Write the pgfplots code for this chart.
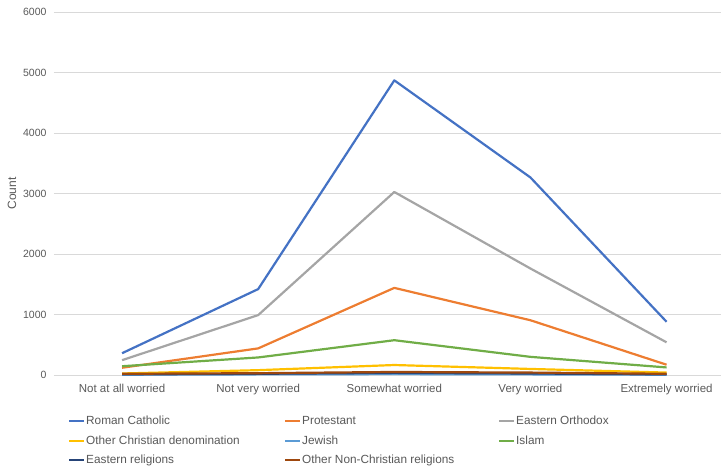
\documentclass[border=0pt]{standalone}
\usepackage{fontspec}
\setmainfont{Liberation Sans}
\usepackage{pgfplots}
\pgfplotsset{compat=1.18}
\definecolor{cRC}{HTML}{4472C4}
\definecolor{cPR}{HTML}{ED7D31}
\definecolor{cEO}{HTML}{A5A5A5}
\definecolor{cOC}{HTML}{FFC000}
\definecolor{cJW}{HTML}{5B9BD5}
\definecolor{cIS}{HTML}{70AD47}
\definecolor{cER}{HTML}{264478}
\definecolor{cON}{HTML}{9E480E}
\definecolor{txt}{HTML}{595959}
\definecolor{grd}{HTML}{D9D9D9}
\begin{document}
\begin{tikzpicture}
\begin{axis}[
  scale only axis,
  width=667pt, height=363pt,
  xmin=-0.5, xmax=4.40,
  ymin=0, ymax=6000,
  xtick={0,1,2,3,4},
  xticklabels={Not at all worried,Not very worried,Somewhat worried,Very worried,Extremely worried},
  ytick={0,1000,2000,3000,4000,5000,6000},
  ymajorgrids, grid style={grd, line width=0.8pt},
  axis line style={draw=none},
  major tick length=0pt,
  scaled y ticks=false,
  /pgf/number format/assume math mode=true,
  /pgf/number format/1000 sep={},
  x tick label style={font=\fontsize{11.5}{13}\selectfont, text=txt, yshift=-6pt},
  y tick label style={font=\fontsize{10.5}{12}\selectfont, text=txt, xshift=-4pt},
  ylabel={Count},
  ylabel style={font=\fontsize{12}{14}\selectfont, text=txt},
  legend columns=3,
  legend cell align=left,
  legend style={at={(0,0)}, anchor=north west, xshift=14pt, yshift=-41pt,
    draw=none, font=\fontsize{11.8}{14}\selectfont, text=txt,
    row sep=9.5pt, column sep=0pt, inner sep=0pt,
    nodes={inner xsep=1pt, inner ysep=0pt}},
  legend image code/.code={\draw[#1, line width=2pt] (0pt,0pt) -- (15pt,0pt);},
  every axis plot/.append style={line width=2.2pt, line join=round, mark=none},
]
\addplot[cRC] coordinates {(0,360) (1,1420) (2,4870) (3,3265) (4,880)};
\addlegendentry{\makebox[197pt][l]{Roman Catholic}}
\addplot[cPR] coordinates {(0,120) (1,440) (2,1440) (3,905) (4,170)};
\addlegendentry{\makebox[195pt][l]{Protestant}}
\addplot[cEO] coordinates {(0,245) (1,990) (2,3025) (3,1760) (4,540)};
\addlegendentry{Eastern Orthodox}
\addplot[cOC] coordinates {(0,25) (1,80) (2,165) (3,100) (4,40)};
\addlegendentry{\makebox[197pt][l]{Other Christian denomination}}
\addplot[cJW] coordinates {(0,5) (1,10) (2,15) (3,10) (4,5)};
\addlegendentry{\makebox[195pt][l]{Jewish}}
\addplot[cIS] coordinates {(0,145) (1,290) (2,575) (3,300) (4,125)};
\addlegendentry{Islam}
\addplot[cER] coordinates {(0,10) (1,20) (2,35) (3,25) (4,10)};
\addlegendentry{\makebox[197pt][l]{Eastern religions}}
\addplot[cON] coordinates {(0,20) (1,30) (2,50) (3,40) (4,20)};
\addlegendentry{\makebox[195pt][l]{Other Non-Christian religions}}
\coordinate (sw) at (rel axis cs:0,0);
\coordinate (ne) at (rel axis cs:1,1);
\end{axis}
\pgfresetboundingbox
\path[use as bounding box] ([xshift=-54pt,yshift=-95pt]sw) rectangle ([yshift=12pt]ne);
\end{tikzpicture}
\end{document}
